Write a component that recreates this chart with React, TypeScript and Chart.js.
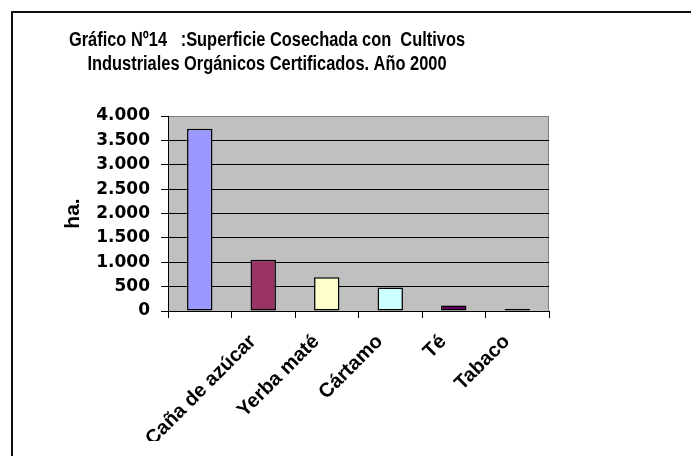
import React, { useEffect, useRef } from 'react';
import { Chart, registerables } from 'chart.js';

Chart.register(...registerables);

const categories = ['Caña de azúcar', 'Yerba maté', 'Cártamo', 'Té', 'Tabaco', ''];
const values = [3740, 1050, 690, 480, 115, 40];
const barColors = ['#9999FF', '#993366', '#FFFFCC', '#CCFFFF', '#660066', '#FF8080'];
const titleLines = [
  'Gráfico Nº14   :Superficie Cosechada con  Cultivos',
  'Industriales Orgánicos Certificados. Año 2000',
];
const yAxisTitle = 'ha.';
const yMin = 0;
const yMax = 4000;
const yStep = 500;

const FONT = '"Liberation Sans", Arial, Helvetica, sans-serif';
const WIDE_FONT = '"DejaVu Sans", Verdana, sans-serif';

const formatThousands = (v: number) =>
  String(Math.round(v)).replace(/\B(?=(\d{3})+(?!\d))/g, '.');

const plotBg = {
  id: 'plotBg',
  beforeDraw(chart: any) {
    const { ctx, chartArea: a } = chart;
    ctx.save();
    ctx.fillStyle = '#C0C0C0';
    ctx.fillRect(a.left, a.top, a.right - a.left, a.bottom - a.top);
    ctx.strokeStyle = '#808080';
    ctx.lineWidth = 1;
    ctx.beginPath();
    ctx.moveTo(a.left, Math.round(a.top) + 0.5);
    ctx.lineTo(Math.round(a.right) - 0.5, Math.round(a.top) + 0.5);
    ctx.lineTo(Math.round(a.right) - 0.5, a.bottom);
    ctx.stroke();
    ctx.restore();
  },
};

// Title drawn in a narrow bold face (Arial Narrow look of the reference)
const manualTitle = {
  id: 'manualTitle',
  afterDraw(chart: any, _args: any, opts: any) {
    const { ctx } = chart;
    ctx.save();
    ctx.fillStyle = '#000';
    ctx.textAlign = 'center';
    ctx.textBaseline = 'alphabetic';
    const probe = 'Superficie Cosechada';
    ctx.font = `bold ${opts.size}px "Liberation Sans Narrow", monospace`;
    const wNarrow = ctx.measureText(probe).width;
    ctx.font = `bold ${opts.size}px monospace`;
    const wMono = ctx.measureText(probe).width;
    const hasNarrow = Math.abs(wNarrow - wMono) > 0.5;
    let sx = 1;
    if (hasNarrow) {
      ctx.font = `bold ${opts.size}px "Liberation Sans Narrow", ${FONT}`;
    } else {
      ctx.font = `bold ${opts.size}px ${FONT}`;
      sx = 0.82;
    }
    opts.lines.forEach((l: string, i: number) => {
      ctx.save();
      ctx.translate(opts.x, opts.y + i * opts.lineHeight);
      ctx.scale(sx, 1);
      ctx.fillText(l, 0, 0);
      ctx.restore();
    });
    ctx.restore();
  },
};

export default function App() {
  const ref = useRef<HTMLCanvasElement | null>(null);

  useEffect(() => {
    if (!ref.current) return;
    const chart = new Chart(ref.current, {
      type: 'bar',
      data: {
        labels: categories,
        datasets: [
          {
            data: values,
            backgroundColor: barColors,
            borderColor: '#000',
            borderWidth: 1.5,
            borderSkipped: false,
            categoryPercentage: 1,
            barPercentage: 0.4,
          },
        ],
      },
      plugins: [plotBg, manualTitle],
      options: {
        animation: false,
        responsive: false,
        layout: { padding: { top: 108, left: 52, right: 134, bottom: 7 } },
        plugins: {
          legend: { display: false },
          tooltip: { enabled: false },
          title: { display: false },
          manualTitle: { lines: titleLines, x: 259, y: 37.5, lineHeight: 24, size: 20 },
        } as any,
        scales: {
          x: {
            afterFit: (s: any) => {
              s.height = 130;
            },
            grid: {
              drawOnChartArea: false,
              drawTicks: true,
              tickLength: 7,
              color: '#000',
              offset: true,
            },
            border: { display: true, color: '#000', width: 1 },
            ticks: {
              autoSkip: false,
              minRotation: 45,
              maxRotation: 45,
              labelOffset: 53,
              padding: 12,
              color: '#000',
              font: { family: FONT, size: 20, weight: 'bold' },
            },
          },
          y: {
            min: yMin,
            max: yMax,
            afterFit: (s: any) => {
              s.width = 108;
            },
            grid: {
              color: (c: any) => (c.tick && c.tick.value === yMax ? '#808080' : '#000'),
              tickColor: '#000',
              tickLength: 7,
              lineWidth: 1,
            },
            border: { display: true, color: '#000', width: 1 },
            ticks: {
              stepSize: yStep,
              autoSkip: false,
              padding: 11,
              color: '#000',
              font: { family: WIDE_FONT, size: 17, weight: 'bold' },
              callback: (v: any) => formatThousands(Number(v)),
            },
            title: {
              display: true,
              text: yAxisTitle,
              color: '#000',
              padding: { top: 1, bottom: 3 },
              font: { family: FONT, size: 21, weight: 'bold' },
            },
          },
        },
      } as any,
    });
    return () => chart.destroy();
  }, []);

  return (
    <div style={{ position: 'relative', width: 675, height: 440 }}>
      <div
        style={{
          position: 'fixed',
          left: 11,
          top: 11,
          width: 2000,
          height: 2000,
          borderLeft: '2px solid #111',
          borderTop: '2px solid #111',
          pointerEvents: 'none',
        }}
      />
      <canvas ref={ref} width={675} height={440} style={{ display: 'block', width: 675, height: 440 }} />
    </div>
  );
}
